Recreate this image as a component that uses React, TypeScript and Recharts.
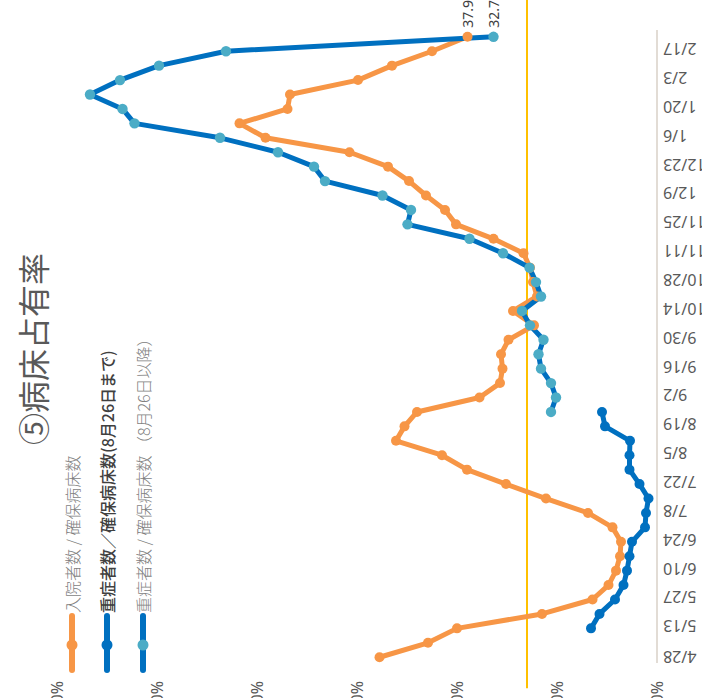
import { LineChart, Line, XAxis, YAxis, ReferenceLine, Legend, LabelList } from 'recharts'

// ==================== || ⑤ 病床占有率 (rotated chart) || ==================== //

const dates = [
    '4/28', '5/5', '5/12', '5/19', '5/26', '6/2', '6/9', '6/16', '6/23', '6/30',
    '7/7', '7/14', '7/21', '7/28', '8/4', '8/11', '8/18', '8/25', '9/1', '9/8',
    '9/15', '9/22', '9/29', '10/6', '10/13', '10/20', '10/27', '11/3', '11/10', '11/17',
    '11/24', '12/1', '12/8', '12/15', '12/22', '12/29', '1/5', '1/12', '1/19', '1/26',
    '2/2', '2/9', '2/16', '2/23',
]

// 入院者数 / 確保病床数
const inpatientRate = [
    55.5, 45.8, 40.0, 23.0, 12.9, 9.7, 8.2, 7.4, 7.2, 8.9,
    13.8, 22.2, 30.2, 38.0, 43.0, 52.2, 50.5, 48.0, 35.5, 31.4,
    30.9, 31.2, 29.7, 24.6, 28.8, 24.0, 24.8, 25.4, 26.7, 32.7,
    40.2, 42.4, 46.2, 49.6, 53.8, 61.5, 78.3, 83.5, 73.9, 73.4,
    59.8, 53.0, 45.0, 37.9,
]

// 重症者数／確保病床数 (8月26日まで)
const severeRateBefore = [
    null, null, 13.2, 11.5, 8.4, 6.7, 6.0, 5.5, 5.0, 2.4,
    2.2, 1.7, 3.5, 5.5, 5.5, 5.4, 10.4, 11.0, null, null,
    null, null, null, null, null, null, null, null, null, null,
    null, null, null, null, null, null, null, null, null, null,
    null, null, null, null,
]

// 重症者数 / 確保病床数 (8月26日以降)
const severeRateAfter = [
    null, null, null, null, null, null, null, null, null, null,
    null, null, null, null, null, null, null, 21.2, 20.2, 21.2,
    23.2, 23.7, 22.7, 25.4, 27.0, 23.2, 24.2, 25.5, 30.8, 37.5,
    49.9, 49.2, 54.9, 66.4, 68.6, 75.8, 87.4, 104.5, 106.9, 113.4,
    107.4, 99.6, 86.2, 32.7,
]

const tickDates = [
    '4/28', '5/13', '5/27', '6/10', '6/24', '7/8', '7/22', '8/5', '8/19', '9/2', '9/16',
    '9/30', '10/14', '10/28', '11/11', '11/25', '12/9', '12/23', '1/6', '1/20', '2/3', '2/17',
]

const percentTicks = [0, 20, 40, 60, 80, 100, 120]
const THRESHOLD = 26

const ORANGE = '#F79646'
const BLUE = '#0070C0'
const TEAL = '#4BACC6'
const GREY = '#595959'

const toDay = (s: string) => {
    const [m, d] = s.split('/').map(Number)
    const y = m >= 4 ? 2020 : 2021
    return Math.round((Date.UTC(y, m - 1, d) - Date.UTC(2020, 3, 28)) / 86400000)
}

const data = dates.map((d, i) => ({
    day: toDay(d),
    inpatient: inpatientRate[i],
    before: severeRateBefore[i],
    after: severeRateAfter[i],
}))

const tickDays = tickDates.map(toDay)
const tickLabel: Record<number, string> = {}
tickDates.forEach((d) => (tickLabel[toDay(d)] = d))

const legendItems = [
    { label: '入院者数 / 確保病床数', line: ORANGE, dot: ORANGE, color: '#7F7F7F', weight: 300 },
    { label: '重症者数／確保病床数(8月26日まで)', line: BLUE, dot: BLUE, color: '#404040', weight: 500 },
    { label: '重症者数 / 確保病床数 （8月26日以降）', line: BLUE, dot: TEAL, color: '#7F7F7F', weight: 300 },
]

const FONT = '"Noto Sans", "Noto Sans CJK JP", sans-serif'
const CJK = '"Noto Sans CJK JP", sans-serif'

const DateTick = ({ x, y, payload }: any) => (
    <text
        x={x}
        y={y}
        transform={`rotate(-90, ${x}, ${y})`}
        textAnchor="end"
        dominantBaseline="central"
        fontSize={16}
        fill={GREY}
        fontFamily={FONT}
    >
        {tickLabel[payload.value]}
    </text>
)

const lastIndex = dates.length - 1
const EndLabel = ({ x, y, value, index }: any) => {
    if (index !== lastIndex || value == null) return null
    return (
        <text x={x + 9} y={y} dominantBaseline="central" fontSize={14} fill="#404040" fontFamily={FONT}>
            {value.toFixed(1)}
        </text>
    )
}

const LegendContent = () => (
    <div style={{ display: 'flex', flexDirection: 'column' }}>
        {legendItems.map((item) => (
            <div key={item.label} style={{ display: 'flex', alignItems: 'center', height: 35.5 }}>
                <svg width={60} height={12} style={{ flex: 'none' }}>
                    <line x1={3} y1={6} x2={57} y2={6} stroke={item.line} strokeWidth={6} strokeLinecap="round" />
                    <circle cx={28} cy={6} r={5.5} fill={item.dot} />
                </svg>
                <span
                    style={{
                        marginLeft: 0,
                        fontSize: 16,
                        fontFamily: CJK,
                        color: item.color,
                        fontWeight: item.weight,
                        whiteSpace: 'nowrap',
                    }}
                >
                    {item.label}
                </span>
            </div>
        ))}
    </div>
)

const App = () => {
    return (
        <div style={{ position: 'absolute', left: 0, top: 0, width: 702, height: 698, overflow: 'hidden', background: '#fff' }}>
            <div
                style={{
                    position: 'absolute',
                    left: 0,
                    top: 0,
                    width: 698,
                    height: 702,
                    transformOrigin: '0 0',
                    transform: 'translateY(698px) rotate(-90deg)',
                }}
            >
                <div
                    style={{
                        position: 'absolute',
                        left: 0,
                        top: 16,
                        width: 698,
                        textAlign: 'center',
                        fontSize: 32,
                        lineHeight: '32px',
                        fontFamily: CJK,
                        color: GREY,
                        zIndex: 2,
                    }}
                >
                    ⑤病床占有率
                </div>
                <LineChart
                    width={698}
                    height={702}
                    data={data}
                    margin={{ top: 57, right: 30, bottom: 0, left: 0 }}
                    style={{ fontFamily: FONT }}
                >
                    <XAxis
                        dataKey="day"
                        type="number"
                        domain={[-2.8, 304.3]}
                        ticks={tickDays}
                        interval={0}
                        height={45}
                        tickLine={false}
                        tickSize={4}
                        tickMargin={2}
                        axisLine={{ stroke: '#E2DCD5', strokeWidth: 2 }}
                        tick={<DateTick />}
                    />
                    <YAxis
                        type="number"
                        domain={[0, 120]}
                        ticks={percentTicks}
                        width={35}
                        axisLine={false}
                        tickLine={false}
                        tickSize={10}
                        tickMargin={8}
                        tickFormatter={(v) => `${v}%`}
                        tick={{ fill: GREY, fontSize: 16 }}
                    />
                    <ReferenceLine
                        segment={[
                            { x: -15, y: THRESHOLD },
                            { x: 319, y: THRESHOLD },
                        ]}
                        stroke="#FFC000"
                        strokeWidth={2}
                        ifOverflow="visible"
                    />
                    <Line
                        dataKey="inpatient"
                        stroke={ORANGE}
                        strokeWidth={5}
                        strokeLinejoin="round"
                        dot={{ r: 5, fill: ORANGE, stroke: ORANGE, strokeWidth: 0 }}
                        activeDot={false}
                        isAnimationActive={false}
                    >
                        <LabelList dataKey="inpatient" content={<EndLabel />} />
                    </Line>
                    <Line
                        dataKey="before"
                        stroke={BLUE}
                        strokeWidth={5}
                        strokeLinejoin="round"
                        dot={{ r: 5, fill: BLUE, stroke: BLUE, strokeWidth: 0 }}
                        activeDot={false}
                        isAnimationActive={false}
                    />
                    <Line
                        dataKey="after"
                        stroke={BLUE}
                        strokeWidth={5}
                        strokeLinejoin="round"
                        dot={{ r: 5.2, fill: TEAL, stroke: TEAL, strokeWidth: 0 }}
                        activeDot={false}
                        isAnimationActive={false}
                    >
                        <LabelList dataKey="after" content={<EndLabel />} />
                    </Line>
                    <Legend
                        layout="vertical"
                        align="center"
                        verticalAlign="middle"
                        content={<LegendContent />}
                        wrapperStyle={{ left: 25, top: 54, width: 400 }}
                    />
                </LineChart>
            </div>
        </div>
    )
}

export default App
